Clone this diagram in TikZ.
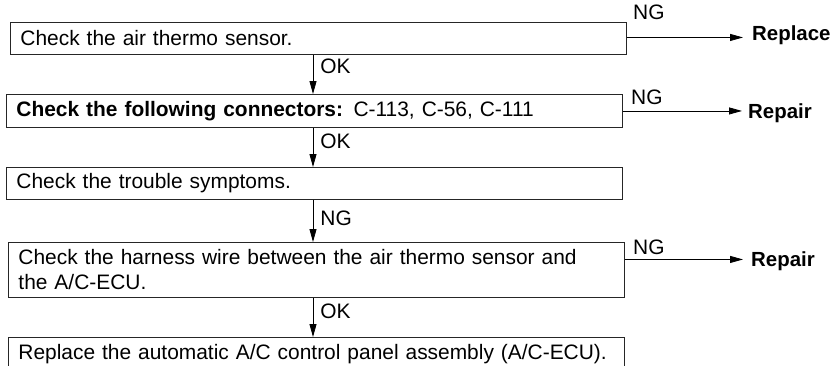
\documentclass[tikz,border=0pt]{standalone}
\usepackage{fontspec}
\setmainfont{Liberation Sans}
\usetikzlibrary{arrows.meta}
\begin{document}
\begin{tikzpicture}[x=1bp,y=-1bp,
  font=\fontsize{21}{25}\selectfont,
  box/.style={draw=black!85, line width=0.9bp, anchor=north west, inner xsep=10bp, inner ysep=0pt,
    align=left, text width=596bp},
  arr/.style={draw=black, line width=0.8bp, -{Triangle[length=13bp,width=7bp]}},
  lbl/.style={inner sep=0pt, anchor=west},
  tgt/.style={inner sep=0pt, anchor=base west, font=\fontsize{20.5}{25}\selectfont\bfseries}]
\useasboundingbox (0,0) rectangle (833,365);
\clip (0,0) rectangle (833,365);
\coordinate (vx) at (313,0);
% boxes
\node[box, minimum height=32bp] (b1) at (10,22) {Check the air thermo sensor.};
\node[box, minimum height=33bp] (b2) at (6,94) {\textbf{Check the following connectors:} C-113, C-56, C-111};
\node[box, minimum height=32bp] (b3) at (6,167) {Check the trouble symptoms.};
\node[box, minimum height=55bp] (b4) at (8,242) {Check the harness wire between the air thermo sensor and\\ the A/C-ECU.};
\node[box, minimum height=34bp] (b5) at (8,337) {Replace the automatic A/C control panel assembly (A/C-ECU).};
% targets
\node[tgt] (t1) at (752,40) {Replace};
\node[tgt] (t2) at (748,118) {Repair};
\node[tgt] (t3) at (751,266) {Repair};
% vertical connectors
\draw[arr] (b1.south -| vx) -- node[lbl, pos=0.28, xshift=7bp] {OK} (b2.north -| vx);
\draw[arr] (b2.south -| vx) -- node[lbl, pos=0.33, xshift=7bp] {OK} (b3.north -| vx);
\draw[arr] (b3.south -| vx) -- node[lbl, pos=0.44, xshift=7bp] {NG} (b4.north -| vx);
\draw[arr] (b4.south -| vx) -- node[lbl, pos=0.33, xshift=7bp] {OK} (b5.north -| vx);
% horizontal connectors
\coordinate (s1) at ([yshift=1bp]b1.east);
\coordinate (s2) at (b2.east);
\coordinate (s4) at ([yshift=10.5bp]b4.east);
\draw[arr] (s1) -- ([xshift=-9bp]t1.west |- s1);
\draw[arr] (s2) -- ([xshift=-6bp]t2.west |- s2);
\draw[arr] (s4) -- ([xshift=-8bp]t3.west |- s4);
\node[lbl] at (633,12) {NG};
\node[lbl] at (631,97) {NG};
\node[lbl] at (633,247) {NG};
\end{tikzpicture}
\end{document}
